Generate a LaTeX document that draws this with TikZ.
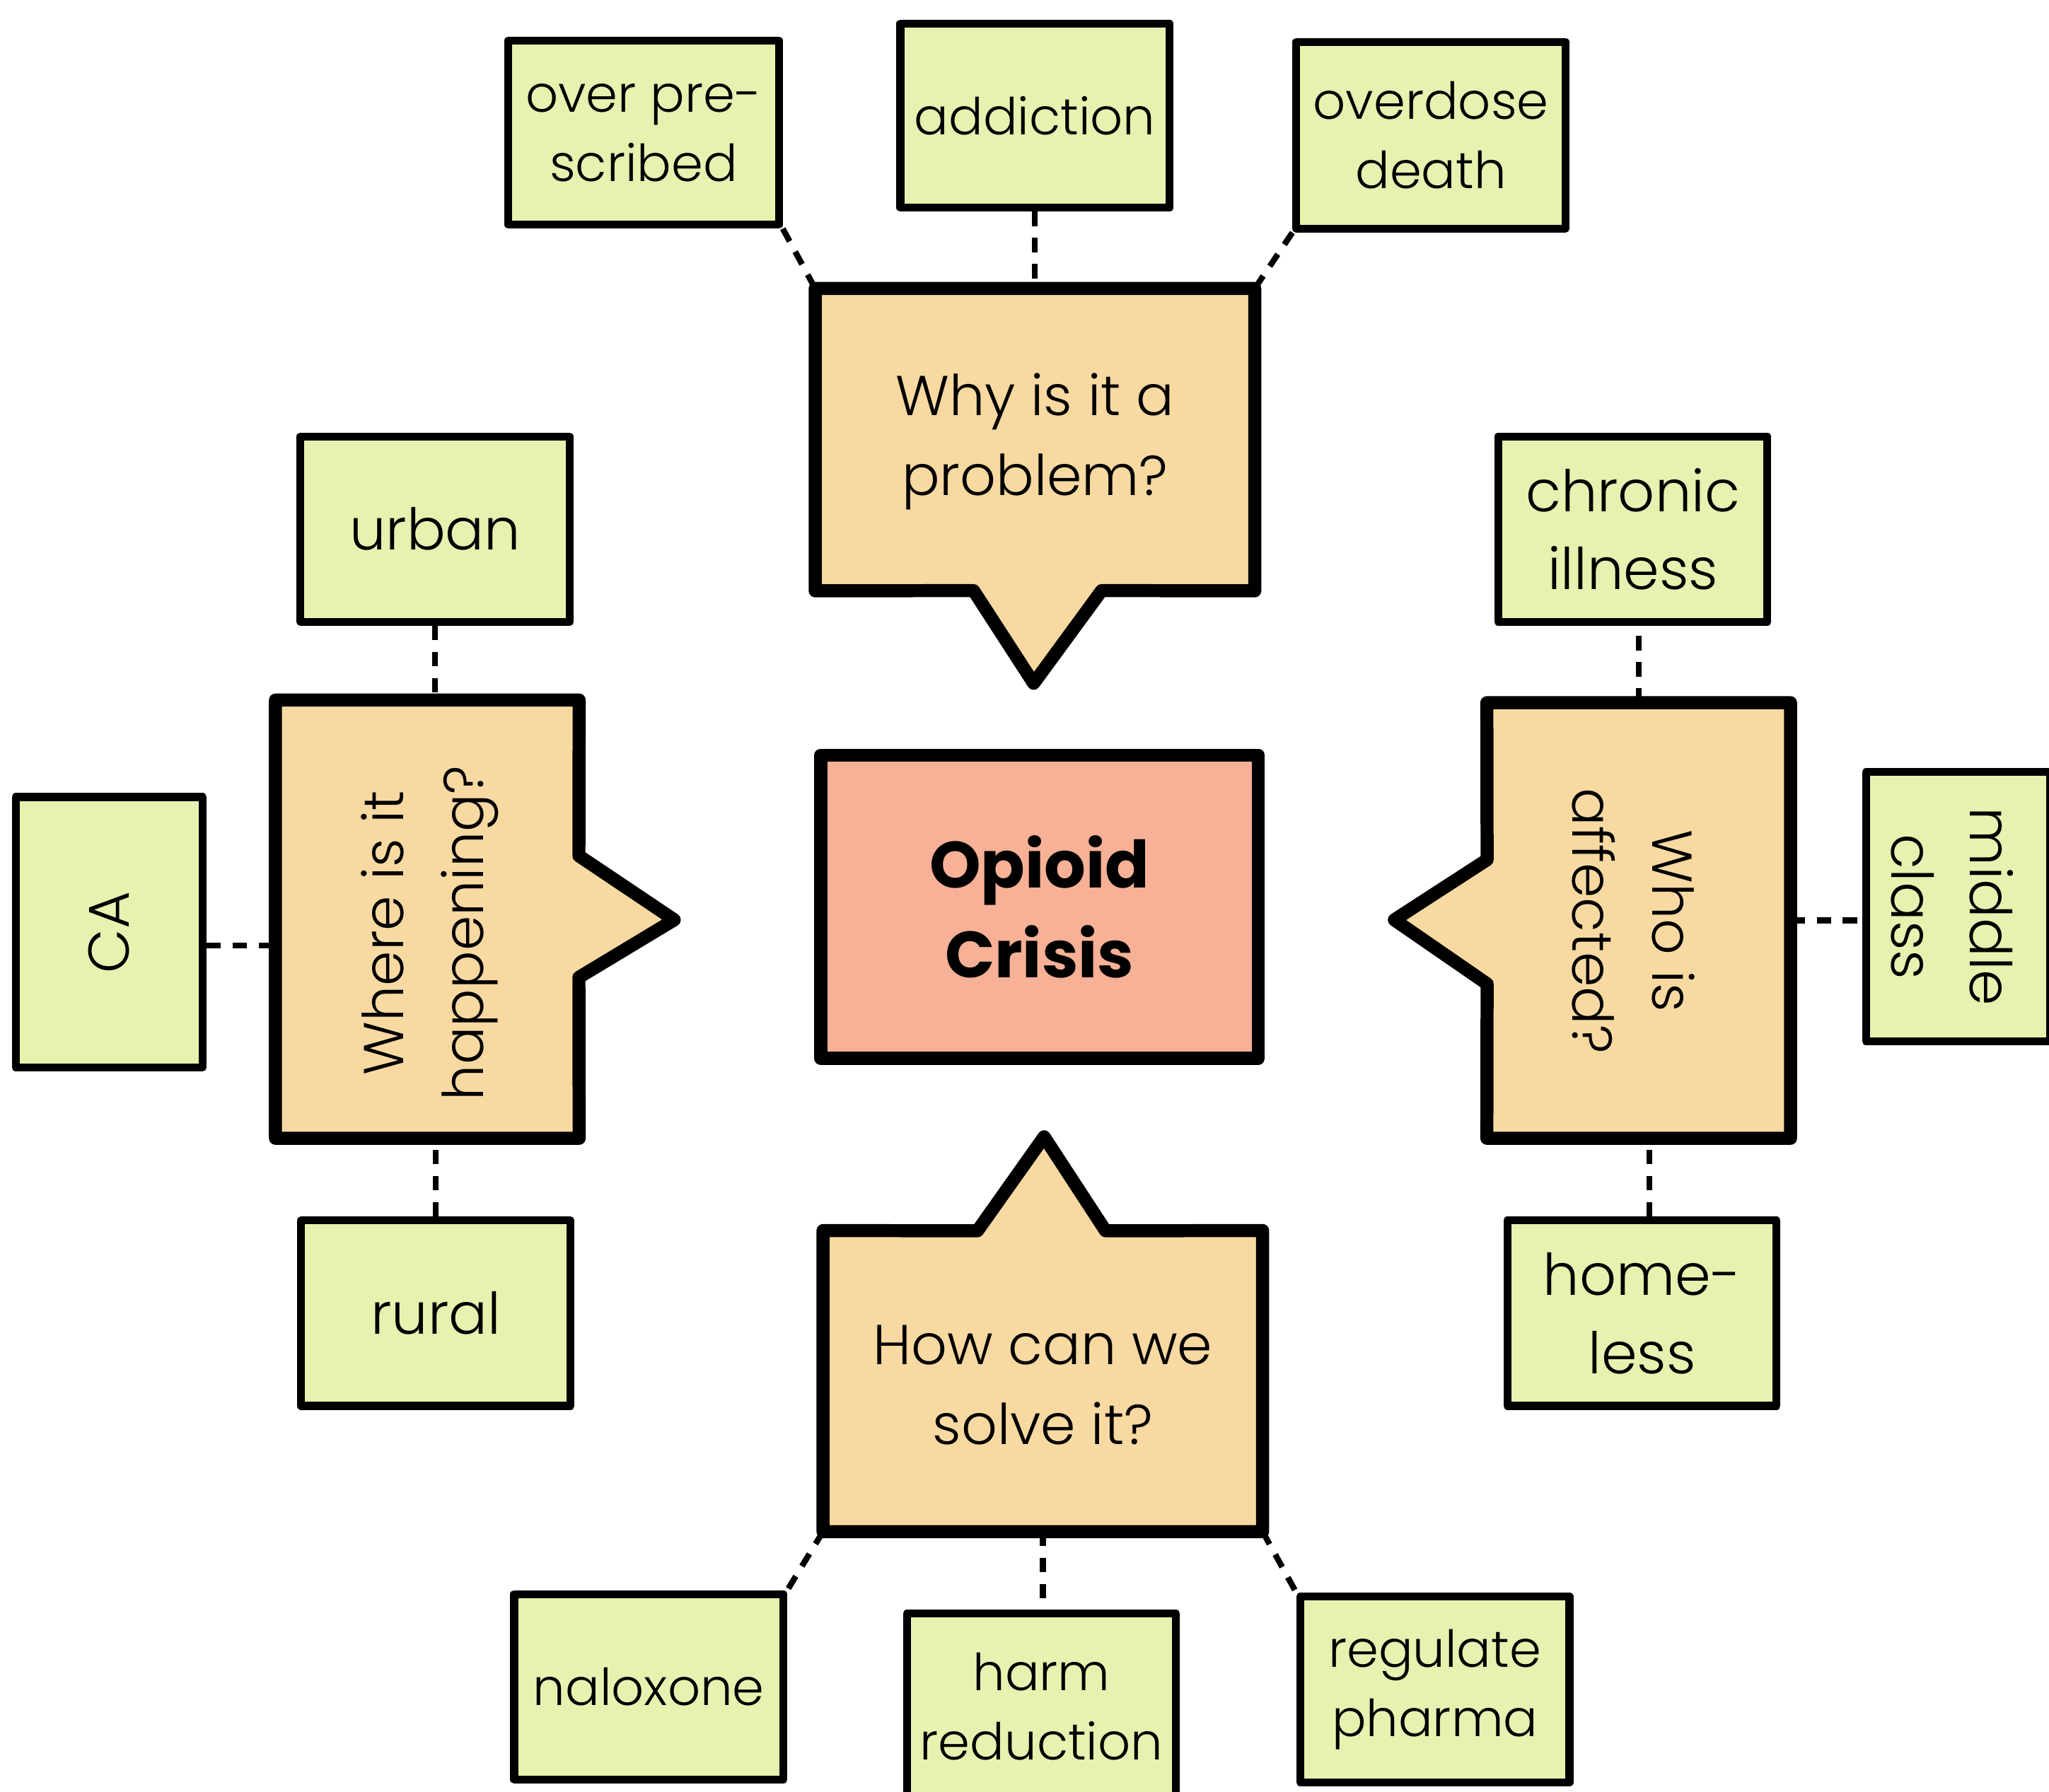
\documentclass[tikz,border=0pt]{standalone}
\usepackage{fontspec}
\setmainfont{Poppins Light}[BoldFont={Poppins Bold}]
\usetikzlibrary{backgrounds,calc}
\definecolor{leaf}{HTML}{E6F2B0}
\definecolor{peach}{HTML}{F8D9A2}
\definecolor{salmon}{HTML}{F7B196}
\begin{document}
\begin{tikzpicture}[x=1pt,y=-1pt,
  leafbox/.style={draw, line width=6pt, fill=leaf, line join=round, inner sep=0pt,
    minimum width=206pt, minimum height=142pt, align=center,
    font=\fontsize{39}{53}\selectfont},
  sidetext/.style={font=\fontsize{44}{60}\selectfont, align=center},
  qframe/.style={inner sep=0pt},
  qshape/.style={draw, line width=10pt, fill=peach, line join=round},
  qtext/.style={font=\fontsize{43}{61}\selectfont, align=center},
  link/.style={line width=4.5pt, dash pattern=on 11pt off 9pt}
]
\useasboundingbox (0,0) rectangle (1568,1371);

% leaf boxes, top
\node[leafbox, minimum width=207pt, minimum height=141pt] (overpre) at (492.5,101.5) {over pre-\\scribed};
\node[leafbox, minimum height=141pt] (addiction) at (792,88.5) {addiction};
\node[leafbox, minimum height=143pt] (overdose) at (1095,103.5) {overdose\\death};

% left
\node[leafbox, sidetext] (urban) at (333,405) {urban};
\node[leafbox, minimum width=143pt, minimum height=207pt] (ca) at (83.5,713.5) {};
\node[sidetext, rotate=90] (catext) at (ca) {CA};
\node[leafbox, sidetext] (rural) at (333.5,1005) {rural};

% right
\node[leafbox, sidetext] (chronic) at (1249.5,405) {chronic\\illness};
\node[leafbox, minimum width=141pt, minimum height=206pt] (middle) at (1498.5,694) {};
\node[sidetext, rotate=-90] (middletext) at (1494,694) {middle\\class};
\node[leafbox, sidetext] (homeless) at (1256.5,1005) {home-\\less};

% bottom
\node[leafbox] (naloxone) at (496.5,1291) {naloxone};
\node[leafbox] (harm) at (797,1306) {harm\\reduction};
\node[leafbox] (regulate) at (1098,1293) {regulate\\pharma};

% question bubbles (frames)
\node[qframe, minimum width=336pt, minimum height=231pt] (why) at (792,336.5) {};
\node[qtext] (whytext) at (792,338) {Why is it a\\problem?};
\node[qframe, minimum width=232pt, minimum height=335pt] (where) at (327,703.5) {};
\node[qtext, rotate=90] (wheretext) at (329,714) {Where is it\\happening?};
\node[qframe, minimum width=232pt, minimum height=333pt] (who) at (1254,704.5) {};
\node[qtext, rotate=-90] (whotext) at (1250,705) {Who is\\affected?};
\node[qframe, minimum width=336pt, minimum height=230pt] (how) at (798,1057) {};
\node[qtext] (howtext) at (798,1060) {How can we\\solve it?};

% centre
\node[draw, line width=10pt, fill=salmon, line join=round, inner sep=0pt,
  minimum width=335pt, minimum height=232pt, align=center,
  font=\bfseries\fontsize{50}{69}\selectfont] (crisis) at (795.5,694) {Opioid\\Crisis};

% connector ports
\coordinate (caport) at ($(ca.east)+(0,10)$);
\coordinate (homeport) at ($(homeless.north)+(5.5,0)$);

\begin{scope}[on background layer]
  \fill[white] (0,0) rectangle (1568,1371);
  % connectors
  \draw[link] (overpre.south east) -- (why.north west);
  \draw[link] (addiction.south) -- (why.north);
  \draw[link] (overdose.south west) -- (why.north east);
  \draw[link] (urban.south) -- (urban.south |- where.north);
  \draw[link] (caport) -- (caport -| where.west);
  \draw[link] (rural.north) -- (rural.north |- where.south);
  \draw[link] (who.north) -- (who.north |- chronic.south);
  \draw[link] (who.east) -- (who.east -| middle.west);
  \draw[link] (homeport) -- (homeport |- who.south);
  \draw[link] (how.south west) -- (naloxone.north east);
  \draw[link] (how.south) -- (how.south |- harm.north);
  \draw[link] (how.south east) -- (regulate.north west);
  % bubble outlines
  \draw[qshape] (why.north west) -- (why.north east) -- (why.south east)
    -- (843,452) -- (791,523) -- (745,452) -- (why.south west) -- cycle;
  \draw[qshape] (where.north west) -- (where.north east) -- (443,655) -- (516,704)
    -- (443,748) -- (where.south east) -- (where.south west) -- cycle;
  \draw[qshape] (who.north west) -- (who.north east) -- (who.south east)
    -- (who.south west) -- (1138,753) -- (1067,704) -- (1138,658) -- cycle;
  \draw[qshape] (how.north west) -- (748,942) -- (799,870) -- (846,942)
    -- (how.north east) -- (how.south east) -- (how.south west) -- cycle;
\end{scope}
\end{tikzpicture}
\end{document}
